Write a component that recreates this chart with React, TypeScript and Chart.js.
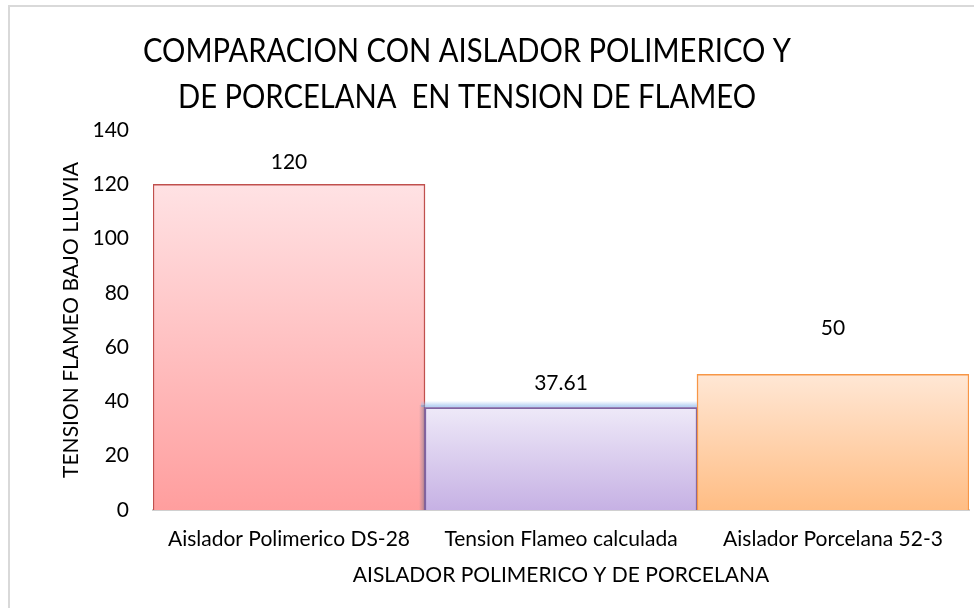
import React, { useEffect, useRef } from "react";
import { Chart, registerables } from "chart.js";

Chart.register(...registerables);

const categories = [
  "Aislador Polimerico DS-28",
  "Tension Flameo calculada",
  "Aislador Porcelana 52-3",
];
const values = [120, 37.61, 50];
const valueLabels = ["120", "37.61", "50"];
const yMin = 0;
const yMax = 140;
const yStep = 20;

const titleLines = [
  "COMPARACION CON AISLADOR POLIMERICO Y",
  "DE PORCELANA  EN TENSION DE FLAMEO",
];
const yTitle = "TENSION FLAMEO BAJO LLUVIA";
const xTitle = "AISLADOR POLIMERICO Y DE PORCELANA";

const FONT = "Lato, 'Open Sans', sans-serif";
const TEXT_SIZE = 21;
const gradTop = ["rgb(255,226,228)", "rgb(238,233,248)", "rgb(255,231,213)"];
const gradBottom = ["rgb(255,158,158)", "rgb(198,177,228)", "rgb(255,189,132)"];
const borders = ["rgb(192,80,77)", "rgb(128,100,162)", "rgb(247,150,70)"];
const LABEL_OFFSETS = [22, 25, 46];

const framePlugin = {
  id: "frame",
  beforeDraw(chart: any) {
    const ctx = chart.ctx;
    ctx.save();
    ctx.fillStyle = "#fff";
    ctx.fillRect(0, 0, chart.width, chart.height);
    ctx.strokeStyle = "#d9d9d9";
    ctx.lineWidth = 2;
    ctx.beginPath();
    ctx.moveTo(9, chart.height);
    ctx.lineTo(9, 6);
    ctx.lineTo(chart.width, 6);
    ctx.stroke();
    ctx.restore();
  },
};

const titlePlugin = {
  id: "customTitle",
  afterDraw(chart: any) {
    const ctx = chart.ctx;
    ctx.save();
    ctx.fillStyle = "#000";
    ctx.font = `32px ${FONT}`;
    ctx.textAlign = "center";
    ctx.textBaseline = "alphabetic";
    const w = ctx.measureText(titleLines[0]).width;
    const sx = 648 / w;
    const cx = 467;
    ctx.translate(cx, 0);
    ctx.scale(sx, 1);
    ctx.fillText(titleLines[0], 0, 62);
    ctx.fillText(titleLines[1], 0, 108);
    ctx.restore();
  },
};

const decoPlugin = {
  id: "deco",
  afterDatasetsDraw(chart: any) {
    const ctx = chart.ctx;
    const meta = chart.getDatasetMeta(0);
    const bar = meta.data[1];
    if (bar) {
      const left = bar.x - bar.width / 2;
      const right = bar.x + bar.width / 2;
      ctx.save();
      const g = ctx.createLinearGradient(0, bar.y - 7, 0, bar.y);
      g.addColorStop(0, "rgba(155,192,238,0)");
      g.addColorStop(1, "rgba(155,192,238,0.95)");
      ctx.fillStyle = g;
      ctx.fillRect(left - 4, bar.y - 7, right - left + 4, 6);
      const s = ctx.createLinearGradient(left - 6, 0, left, 0);
      s.addColorStop(0, "rgba(110,110,140,0)");
      s.addColorStop(1, "rgba(110,110,140,0.55)");
      ctx.fillStyle = s;
      ctx.fillRect(left - 6, bar.y - 3, 6, bar.base - bar.y + 3);
      ctx.strokeStyle = borders[1];
      ctx.lineWidth = 1.5;
      ctx.beginPath();
      ctx.moveTo(left, bar.base);
      ctx.lineTo(left, bar.y);
      ctx.lineTo(right, bar.y);
      ctx.stroke();
      ctx.restore();
    }
    ctx.save();
    ctx.fillStyle = "#000";
    ctx.font = `${TEXT_SIZE}px ${FONT}`;
    ctx.textAlign = "center";
    ctx.textBaseline = "middle";
    meta.data.forEach((el: any, i: number) => {
      ctx.fillText(valueLabels[i], el.x, el.y - LABEL_OFFSETS[i]);
    });
    ctx.restore();
  },
};

function fill(ctx: any, i: number) {
  const chart = ctx.chart;
  const y = chart.scales?.y;
  if (!chart.chartArea || !y) return gradBottom[i];
  const top = y.getPixelForValue(values[i]);
  const bottom = y.getPixelForValue(0);
  const g = chart.ctx.createLinearGradient(0, top, 0, bottom);
  g.addColorStop(0, gradTop[i]);
  g.addColorStop(1, gradBottom[i]);
  return g;
}

export default function App() {
  const ref = useRef<HTMLCanvasElement>(null);
  useEffect(() => {
    document.body.style.margin = "0";
    const chart = new Chart(ref.current!, {
      type: "bar",
      data: {
        labels: categories,
        datasets: [
          {
            data: values,
            backgroundColor: (c: any) => fill(c, c.dataIndex),
            borderColor: borders,
            borderWidth: 1.5,
            barPercentage: 1,
            categoryPercentage: 1,
          },
        ],
      },
      options: {
        responsive: false,
        animation: false,
        layout: { padding: { top: 130, right: 5, left: 0, bottom: 0 } },
        plugins: {
          legend: { display: false },
          title: { display: false },
          tooltip: { enabled: false },
        },
        scales: {
          x: {
            grid: { display: false, drawTicks: false },
            border: { display: true, color: "#d0d0d0", width: 2 },
            ticks: { color: "#000", font: { family: FONT, size: TEXT_SIZE }, padding: 17, maxRotation: 0 },
            title: {
              display: true,
              text: xTitle,
              color: "#000",
              font: { family: FONT, size: TEXT_SIZE },
              padding: { top: 0, bottom: 20 },
            },
            afterFit: (s: any) => {
              s.height = 98;
            },
          },
          y: {
            min: yMin,
            max: yMax,
            grid: { display: false, drawTicks: false },
            border: { display: false },
            ticks: { stepSize: yStep, color: "#000", font: { family: FONT, size: TEXT_SIZE }, padding: 24 },
            title: {
              display: true,
              text: yTitle,
              color: "#000",
              font: { family: FONT, size: TEXT_SIZE },
              padding: { top: 59, bottom: 0 },
            },
            afterFit: (s: any) => {
              s.width = 153;
            },
          },
        },
      },
      plugins: [framePlugin, titlePlugin, decoPlugin],
    });
    return () => chart.destroy();
  }, []);
  return <canvas ref={ref} width={974} height={608} style={{ display: "block" }} />;
}
